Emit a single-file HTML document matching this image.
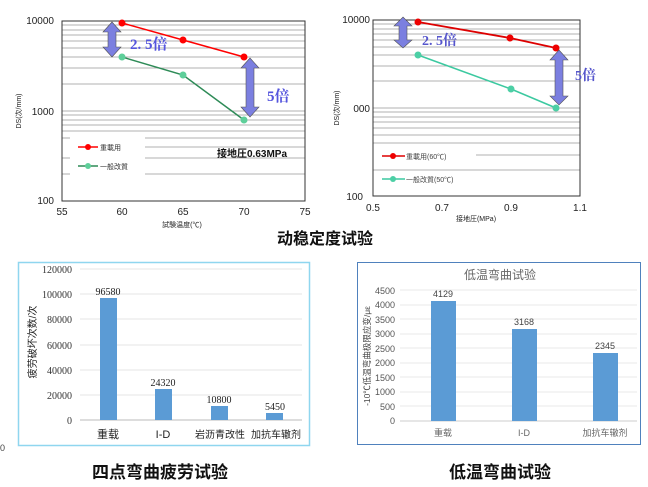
<!DOCTYPE html>
<html><head><meta charset="utf-8"><style>
html,body{margin:0;padding:0;background:#fff;width:648px;height:487px;overflow:hidden}
svg{display:block;font-family:"Liberation Sans","Noto Sans CJK SC",sans-serif}
</style></head><body>
<svg width="648" height="487" viewBox="0 0 648 487" xmlns="http://www.w3.org/2000/svg">
<!-- Chart 1 -->
<g stroke="#999" stroke-width="0.8">
<line x1="62" y1="21" x2="305" y2="21"/><line x1="62" y1="25" x2="305" y2="25"/><line x1="62" y1="30" x2="305" y2="30"/><line x1="62" y1="35" x2="305" y2="35"/><line x1="62" y1="41" x2="305" y2="41"/><line x1="62" y1="48" x2="305" y2="48"/><line x1="62" y1="57" x2="305" y2="57"/><line x1="62" y1="68" x2="305" y2="68"/><line x1="62" y1="84" x2="305" y2="84"/>
<line x1="62" y1="111" x2="305" y2="111"/><line x1="62" y1="115" x2="305" y2="115"/><line x1="62" y1="120" x2="305" y2="120"/><line x1="62" y1="125" x2="305" y2="125"/><line x1="62" y1="131" x2="305" y2="131"/><line x1="145" y1="138" x2="305" y2="138"/><line x1="145" y1="147" x2="305" y2="147"/><line x1="145" y1="158" x2="305" y2="158"/><line x1="145" y1="174" x2="305" y2="174"/>
<line x1="62" y1="138" x2="70" y2="138"/><line x1="62" y1="158" x2="70" y2="158"/><line x1="62" y1="174" x2="70" y2="174"/>
</g>
<rect x="62" y="21" width="243" height="180" fill="none" stroke="#333" stroke-width="1"/>
<g font-size="10" fill="#222" text-anchor="end"><text x="54" y="24">10000</text><text x="54" y="115">1000</text><text x="54" y="204">100</text></g>
<g font-size="10" fill="#222" text-anchor="middle"><text x="62" y="215">55</text><text x="122" y="215">60</text><text x="183" y="215">65</text><text x="244" y="215">70</text><text x="305" y="215">75</text></g>
<text x="182" y="227" font-size="7" text-anchor="middle" fill="#222">試験温度(℃)</text>
<text transform="translate(21,111) rotate(-90)" font-size="7" text-anchor="middle" fill="#222">DS(次/mm)</text>
<polyline points="122,23 183,40 244,57" fill="none" stroke="#f00" stroke-width="1.5"/>
<polyline points="122,57 183,75 244,120" fill="none" stroke="#2e8b57" stroke-width="1.5"/>
<g fill="#f00"><circle cx="122" cy="23" r="3.5"/><circle cx="183" cy="40" r="3.5"/><circle cx="244" cy="57" r="3.5"/></g>
<g fill="#5ecf9a"><circle cx="122" cy="57" r="3.5"/><circle cx="183" cy="75" r="3.5"/><circle cx="244" cy="120" r="3.5"/></g>
<polygon points="112,22 121,32 116,32 116,47 121,47 112,57 103,47 108,47 108,32 103,32" fill="#7b7fe0" stroke="#555" stroke-width="0.6"/>
<polygon points="250,58 259,68 254,68 254,107 259,107 250,117 241,107 246,107 246,68 241,68" fill="#7b7fe0" stroke="#555" stroke-width="0.6"/>
<text x="130" y="49" font-size="15" font-weight="bold" fill="#5555dd" font-family="Liberation Serif,'Noto Serif CJK SC',serif">2. 5倍</text>
<text x="267" y="101" font-size="15" font-weight="bold" fill="#5555dd" font-family="Liberation Serif,'Noto Serif CJK SC',serif">5倍</text>
<text x="217" y="157" font-size="10" font-weight="bold" fill="#111">接地圧0.63MPa</text>
<line x1="78" y1="147" x2="98" y2="147" stroke="#f00" stroke-width="1.5"/><circle cx="88" cy="147" r="3" fill="#f00"/><text x="100" y="150" font-size="7" fill="#333">重載用</text>
<line x1="78" y1="166" x2="98" y2="166" stroke="#2e8b57" stroke-width="1.5"/><circle cx="88" cy="166" r="3" fill="#5ecf9a"/><text x="100" y="169" font-size="7" fill="#333">一般改質</text>

<!-- Chart 2 -->
<g stroke="#999" stroke-width="0.8">
<line x1="373" y1="20" x2="580" y2="20"/><line x1="373" y1="24" x2="580" y2="24"/><line x1="373" y1="29" x2="580" y2="29"/><line x1="373" y1="34" x2="580" y2="34"/><line x1="373" y1="40" x2="580" y2="40"/><line x1="373" y1="47" x2="580" y2="47"/><line x1="373" y1="55" x2="580" y2="55"/><line x1="373" y1="66" x2="580" y2="66"/><line x1="373" y1="81" x2="580" y2="81"/>
<line x1="373" y1="108" x2="580" y2="108"/><line x1="373" y1="112" x2="580" y2="112"/><line x1="373" y1="117" x2="580" y2="117"/><line x1="373" y1="122" x2="580" y2="122"/><line x1="373" y1="128" x2="580" y2="128"/><line x1="373" y1="135" x2="580" y2="135"/><line x1="373" y1="143" x2="580" y2="143"/><line x1="476" y1="155" x2="580" y2="155"/><line x1="373" y1="170" x2="580" y2="170"/>
</g>
<rect x="373" y="20" width="207" height="176" fill="none" stroke="#333" stroke-width="1"/>
<g font-size="10" fill="#222" text-anchor="end"><text x="370" y="23">10000</text><text x="370" y="112">000</text><text x="363" y="200">100</text></g>
<g font-size="10" fill="#222" text-anchor="middle"><text x="373" y="211">0.5</text><text x="442" y="211">0.7</text><text x="511" y="211">0.9</text><text x="580" y="211">1.1</text></g>
<text x="476" y="221" font-size="7" text-anchor="middle" fill="#222">接地圧(MPa)</text>
<text transform="translate(339,108) rotate(-90)" font-size="7" text-anchor="middle" fill="#222">DS(次/mm)</text>
<polyline points="418,22 510,38 556,48" fill="none" stroke="#d00" stroke-width="1.8"/>
<polyline points="418,55 511,89 556,108" fill="none" stroke="#3cc9a0" stroke-width="1.5"/>
<g fill="#e00"><circle cx="418" cy="22" r="3.5"/><circle cx="510" cy="38" r="3.5"/><circle cx="556" cy="48" r="3.5"/></g>
<g fill="#4ccfa5"><circle cx="418" cy="55" r="3.5"/><circle cx="511" cy="89" r="3.5"/><circle cx="556" cy="108" r="3.5"/></g>
<polygon points="403,17 412,26 407,26 407,40 412,40 403,48 394,40 399,40 399,26 394,26" fill="#7b7fe0" stroke="#555" stroke-width="0.6"/>
<polygon points="559,50 568,60 563,60 563,96 568,96 559,105 550,96 555,96 555,60 550,60" fill="#7b7fe0" stroke="#555" stroke-width="0.6"/>
<text x="422" y="45" font-size="14" font-weight="bold" fill="#5555cc" font-family="Liberation Serif,'Noto Serif CJK SC',serif">2. 5倍</text>
<text x="575" y="80" font-size="14" font-weight="bold" fill="#5555cc" font-family="Liberation Serif,'Noto Serif CJK SC',serif">5倍</text>
<line x1="382" y1="156" x2="405" y2="156" stroke="#d00" stroke-width="1.5"/><circle cx="393" cy="156" r="3" fill="#e00"/><text x="406" y="159" font-size="7" fill="#444">重載用(60℃)</text>
<line x1="382" y1="179" x2="405" y2="179" stroke="#3cc9a0" stroke-width="1.5"/><circle cx="393" cy="179" r="3" fill="#4ccfa5"/><text x="406" y="182" font-size="7" fill="#444">一般改質(50℃)</text>

<text x="325" y="244" font-size="16" font-weight="bold" text-anchor="middle" fill="#111">动稳定度试验</text>

<!-- Chart 3 -->
<rect x="18.5" y="262.5" width="291" height="183" fill="#fff" stroke="#8fd6ef" stroke-width="1.5"/>
<g stroke="#ddd" stroke-width="0.8"><line x1="80" y1="269" x2="302" y2="269"/><line x1="80" y1="294" x2="302" y2="294"/><line x1="80" y1="319" x2="302" y2="319"/><line x1="80" y1="345" x2="302" y2="345"/><line x1="80" y1="370" x2="302" y2="370"/><line x1="80" y1="395" x2="302" y2="395"/></g>
<line x1="80" y1="420" x2="302" y2="420" stroke="#bbb"/>
<g font-size="10" fill="#333" text-anchor="end" font-family="Liberation Serif,serif"><text x="72" y="273">120000</text><text x="72" y="298">100000</text><text x="72" y="323">80000</text><text x="72" y="349">60000</text><text x="72" y="374">40000</text><text x="72" y="399">20000</text><text x="72" y="424">0</text></g>
<g fill="#5b9bd5"><rect x="100" y="298" width="17" height="122"/><rect x="155" y="389" width="17" height="31"/><rect x="211" y="406" width="17" height="14"/><rect x="266" y="413" width="17" height="7"/></g>
<g font-size="10" fill="#222" text-anchor="middle" font-family="Liberation Serif,serif"><text x="108" y="295">96580</text><text x="163" y="386">24320</text><text x="219" y="403">10800</text><text x="275" y="410">5450</text></g>
<g font-size="10" fill="#222" text-anchor="middle"><text x="108" y="438" font-size="11">重载</text><text x="163" y="438" font-size="11">I-D</text><text x="220" y="438">岩沥青改性</text><text x="276" y="438">加抗车辙剂</text></g>
<text transform="translate(36,342) rotate(-90)" font-size="10" text-anchor="middle" fill="#222">疲劳破坏次数/次</text>
<text x="0" y="451" font-size="9" fill="#444">0</text>
<text x="160" y="478" font-size="17" font-weight="bold" text-anchor="middle" fill="#111">四点弯曲疲劳试验</text>

<!-- Chart 4 -->
<rect x="357.5" y="262.5" width="283" height="182" fill="#fff" stroke="#4f81bd" stroke-width="1"/>
<text x="500" y="279" font-size="12" text-anchor="middle" fill="#666">低温弯曲试验</text>
<g stroke="#e2e2e2" stroke-width="0.8"><line x1="400" y1="290" x2="637" y2="290"/><line x1="400" y1="305" x2="637" y2="305"/><line x1="400" y1="319" x2="637" y2="319"/><line x1="400" y1="334" x2="637" y2="334"/><line x1="400" y1="348" x2="637" y2="348"/><line x1="400" y1="363" x2="637" y2="363"/><line x1="400" y1="377" x2="637" y2="377"/><line x1="400" y1="392" x2="637" y2="392"/><line x1="400" y1="406" x2="637" y2="406"/></g>
<line x1="400" y1="421" x2="637" y2="421" stroke="#ccc"/>
<g font-size="9" fill="#555" text-anchor="end"><text x="395" y="294">4500</text><text x="395" y="308">4000</text><text x="395" y="323">3500</text><text x="395" y="337">3000</text><text x="395" y="352">2500</text><text x="395" y="366">2000</text><text x="395" y="381">1500</text><text x="395" y="395">1000</text><text x="395" y="410">500</text><text x="395" y="424">0</text></g>
<g fill="#5b9bd5"><rect x="431" y="301" width="25" height="120"/><rect x="512" y="329" width="25" height="92"/><rect x="593" y="353" width="25" height="68"/></g>
<g font-size="9" fill="#444" text-anchor="middle"><text x="443" y="297">4129</text><text x="524" y="325">3168</text><text x="605" y="349">2345</text></g>
<g font-size="9" fill="#666" text-anchor="middle"><text x="443" y="436">重载</text><text x="524" y="436">I-D</text><text x="605" y="436">加抗车辙剂</text></g>
<text transform="translate(370,356) rotate(-90)" font-size="8.5" text-anchor="middle" fill="#444">-10℃低温弯曲极限应变/με</text>
<text x="500" y="478" font-size="17" font-weight="bold" text-anchor="middle" fill="#111">低温弯曲试验</text>
</svg>
</body></html>
